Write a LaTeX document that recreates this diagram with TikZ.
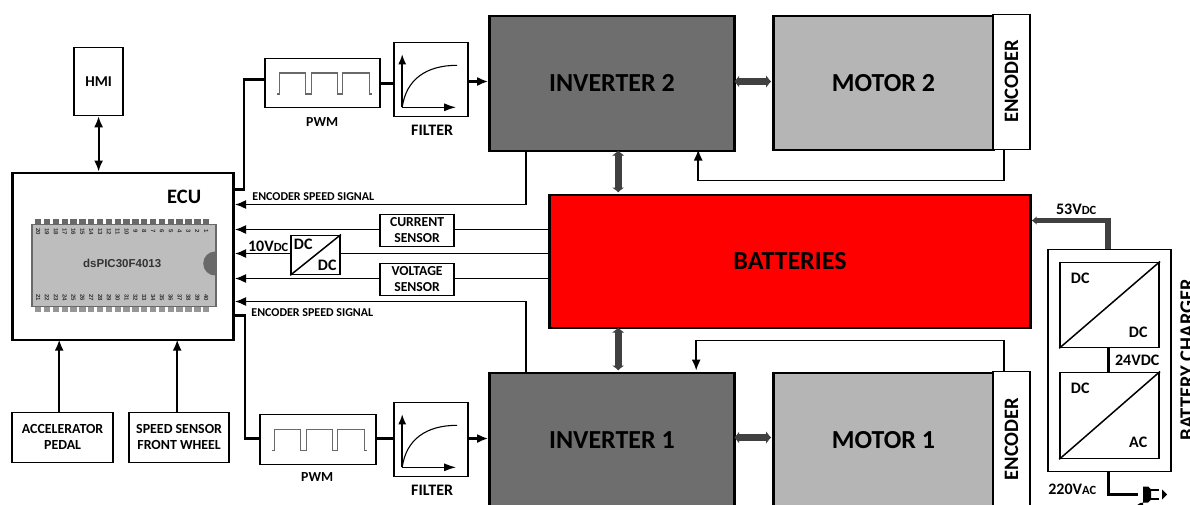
\documentclass[tikz,border=0pt]{standalone}
\usepackage{fontspec}
\setmainfont{Carlito}
\newfontfamily\chipfont{Liberation Sans}
\usetikzlibrary{arrows.meta}
\usetikzlibrary{calc}
\tikzset{>=latex}
\definecolor{chipgray}{RGB}{189,189,189}
\definecolor{pingray}{RGB}{105,105,105}
\definecolor{powergray}{RGB}{64,64,64}
\definecolor{invgray}{RGB}{110,110,110}
\definecolor{motorgray}{RGB}{181,181,181}
\tikzstyle{block}=[draw=black,line width=1.8pt,fill=white,inner sep=0pt,font=\bfseries,align=center,anchor=north west]
\tikzstyle{big block}=[block,line width=2.5pt,font=\bfseries\fontsize{26}{28}\selectfont]
\tikzstyle{enc block}=[block,line width=1.3pt,font=\bfseries\fontsize{20.5}{22}\selectfont]
\tikzstyle{thick line}=[draw=black,line width=2.4pt]
\tikzstyle{thin line}=[draw=black,line width=1.5pt]
\tikzstyle{power}=[draw=powergray,line width=7pt,{Latex[length=5pt,width=13pt]}-{Latex[length=5pt,width=13pt]}]
\tikzstyle{sig}=[-{Latex[length=11pt,width=9pt]}]
\tikzstyle{label}=[font=\bfseries\fontsize{16}{17}\selectfont,inner sep=0pt]
\tikzstyle{small label}=[font=\bfseries\fontsize{12}{13}\selectfont,inner sep=0pt]
\begin{document}
\begin{tikzpicture}[x=1pt,y=-1pt]
    \useasboundingbox (0.8,0.5) rectangle ++(1190,504);
    \clip (0.8,0.5) rectangle ++(1190,504);
    % main blocks
    \node[block,minimum width=49pt,minimum height=68pt,font=\bfseries\fontsize{15}{16}\selectfont] (hmi) at (74,47) {HMI};
    \node[block,minimum width=221pt,minimum height=167pt,line width=2.8pt] (ecu) at (12,172) {};
    \node[label,font=\bfseries\fontsize{20.5}{22}\selectfont] (ecutext) at (185,197) {ECU};
    \node[big block,minimum width=245pt,minimum height=135pt,fill=invgray] (inv2) at (489,15) {INVERTER 2};
    \node[big block,minimum width=220pt,minimum height=134pt,fill=motorgray] (mot2) at (773,15) {MOTOR 2};
    \node[enc block,minimum width=37pt,minimum height=135pt] (enc2) at (993,14) {\rotatebox{90}{ENCODER}};
    \node[big block,minimum width=481pt,minimum height=133pt,fill=red] (bat) at (549,194) {BATTERIES};
    \node[big block,minimum width=245pt,minimum height=135pt,fill=invgray] (inv1) at (489,372) {INVERTER 1};
    \node[big block,minimum width=220pt,minimum height=135pt,fill=motorgray] (mot1) at (773,372) {MOTOR 1};
    \node[enc block,minimum width=37pt,minimum height=136pt] (enc1) at (993,371) {\rotatebox{90}{ENCODER}};
    \node[block,minimum width=101pt,minimum height=50pt,font=\bfseries\fontsize{13.9}{16}\selectfont] (pedal) at (12,412) {ACCELERATOR\\PEDAL};
    \node[block,minimum width=100pt,minimum height=50pt,font=\bfseries\fontsize{13.9}{16}\selectfont] (wheel) at (129,412) {SPEED SENSOR\\FRONT WHEEL};
    % PWM and filter
    \node[block,minimum width=115pt,minimum height=49pt] (pwm2) at (265,58) {};
    \node[block,minimum width=74pt,minimum height=74pt] (fil2) at (394,42) {};
    \node[block,minimum width=116pt,minimum height=50pt] (pwm1) at (260,414) {};
    \node[block,minimum width=74pt,minimum height=74pt] (fil1) at (394,402) {};
    \node[label,font=\bfseries\fontsize{13.8}{15}\selectfont] (pwm2text) at (323,123) {PWM};
    \node[label] (fil2text) at (433,131) {FILTER};
    \node[label,font=\bfseries\fontsize{13.8}{15}\selectfont] (pwm1text) at (318,478) {PWM};
    \node[label] (fil1text) at (433,491) {FILTER};
    \foreach \pw in {pwm2,pwm1}{
      \draw[draw=pingray,line width=1.2pt] ($(\pw.west)+(13,11)$) -- ++(2,0) -- ++(0,-21) -- ++(26,0) -- ++(0,21) -- ++(6,0) -- ++(0,-21) -- ++(26,0) -- ++(0,21) -- ++(5,0) -- ++(0,-21) -- ++(27,0) -- ++(0,21) -- ++(3,0);
    }
    \foreach \flt in {fil2,fil1}{
      \coordinate (o) at ($(\flt.south west)+(9,-10)$);
      \draw[thin line,-{Latex[length=10pt,width=8pt]}] (o) -- ++(0,-53);
      \draw[thin line,-{Latex[length=12pt,width=8pt]}] (o) -- ++(54,0);
      \draw[draw=black,line width=1.1pt] (o) .. controls ($(o)+(4,-28)$) and ($(o)+(24,-42)$) .. ($(o)+(55,-42)$);
    }
    % sensors
    \node[block,minimum width=74pt,minimum height=32pt,font=\bfseries\fontsize{13.7}{16}\selectfont] (cur) at (380,214) {CURRENT\\SENSOR};
    \node[block,minimum width=74pt,minimum height=32pt,font=\bfseries\fontsize{13.7}{16}\selectfont] (volt) at (380,263) {VOLTAGE\\SENSOR};
    \node[block,minimum width=49pt,minimum height=39pt] (dcdc) at (291,235) {};
    \draw[thin line] (dcdc.south west) -- (dcdc.north east);
    \node[label] (dcdca) at (304,245) {DC};
    \node[label] (dcdcb) at (328,266) {DC};
    % chip
    \foreach \i in {1,...,20}{
      \pgfmathsetmacro{\px}{39+(\i-1)*8.84}
      \fill[pingray] (\px-3.2,219) rectangle (\px+3.2,224);
      \fill[pingray!70] (\px-3.2,306) rectangle (\px+3.2,312);
    }
    \node[draw=pingray,line width=1.6pt,fill=chipgray,minimum width=184pt,minimum height=82pt,inner sep=0pt,anchor=north west] (chip) at (32,224) {};
    \begin{scope}
      \clip (chip.north west) rectangle (chip.south east);
      \fill[pingray] (216,264) circle (12);
    \end{scope}
    \foreach \i in {1,...,20}{
      \pgfmathsetmacro{\px}{39+(\i-1)*8.84}
      \pgfmathtruncatemacro{\topnum}{21-\i}
      \pgfmathtruncatemacro{\botnum}{20+\i}
      \node[rotate=-90,inner sep=0pt,text=black!80,font=\chipfont\bfseries\fontsize{6}{6}\selectfont] (tn\i) at (\px,232) {\topnum};
      \node[rotate=-90,inner sep=0pt,text=black!80,font=\chipfont\bfseries\fontsize{6}{6}\selectfont] (bn\i) at (\px,298) {\botnum};
    }
    \node[inner sep=0pt,font=\chipfont\bfseries\fontsize{11.5}{12}\selectfont,text=black!80] (chiptext) at (123,264) {dsPIC30F4013};
    % ECU connections
    \draw[thick line,{Latex[length=11pt,width=9pt]}-{Latex[length=11pt,width=9pt]},line width=1.8pt] (hmi.south) -- (ecu.north -| hmi.south);
    \draw[thick line,sig] (pedal.north -| 60,0) -- (60,340);
    \draw[thick line,sig] (178,412) -- (178,340);
    \draw[thick line] (233,190) -- (245,190) -- (245,80) -- (pwm2.west |- 0,80);
    \draw[thick line] (233,316) -- (246,316) -- (246,439) -- (pwm1.west |- 0,439);
    \draw[thick line] (pwm2.east |- 0,84) -- (fil2.west |- 0,84);
    \draw[thick line] (pwm1.east |- 0,439) -- (fil1.west |- 0,439);
    \draw[thick line,sig] (fil2.east |- 0,82) -- (inv2.west |- 0,82);
    \draw[thick line,sig] (fil1.east |- 0,439) -- (inv1.west |- 0,439);
    % signals to ECU
    \draw[thin line,sig] (527,150) -- (527,205) -- (ecu.east |- 0,205);
    \draw[thin line,sig] (527,372) -- (527,302) -- (ecu.east |- 0,302);
    \draw[thin line,sig] (cur.west |- 0,230) -- (ecu.east |- 0,230);
    \draw[thin line] (bat.west |- 0,230) -- (cur.east |- 0,230);
    \draw[thin line,sig] (volt.west |- 0,279) -- (ecu.east |- 0,279);
    \draw[thin line] (bat.west |- 0,279) -- (volt.east |- 0,279);
    \draw[thin line,sig] (dcdc.west |- 0,254) -- (ecu.east |- 0,254);
    \draw[thin line] (bat.west |- 0,254) -- (dcdc.east |- 0,254);
    \node[small label,anchor=west] (enc2text) at (253,197) {ENCODER SPEED SIGNAL};
    \node[small label,anchor=west] (enc1text) at (252,313) {ENCODER SPEED SIGNAL};
    \node[label] (vten) at (269,247) {10V{\fontsize{12.5}{13}\selectfont DC}};
    % power arrows
    \draw[power] (619,151) -- (619,193);
    \draw[power] (619,328) -- (619,371);
    \draw[power] (735,82) -- (772,82);
    \draw[power] (735,438) -- (772,438);
    % motor feedback
    \draw[thin line,sig] (1005,149) -- (1005,181) -- (699,181) -- (699,150);
    \draw[thin line,sig] (1005,371) -- (1005,341) -- (697,341) -- (697,371);
    % charger
    \node[block,minimum width=123pt,minimum height=222pt,line width=1.4pt] (chg) at (1048,249) {};
    \node[block,minimum width=99pt,minimum height=85pt] (conv2) at (1060,262) {};
    \node[block,minimum width=99pt,minimum height=86pt] (conv1) at (1060,372) {};
    \draw[thin line] (conv2.south west) -- (conv2.north east);
    \draw[thin line] (conv1.south west) -- (conv1.north east);
    \node[label] (c2a) at (1081,279) {DC};
    \node[label] (c2b) at (1139,333) {DC};
    \node[label] (c1a) at (1081,389) {DC};
    \node[label] (c1b) at (1139,443) {AC};
    \draw[draw=black,line width=3pt] (conv2.south -| 1109,0) -- (conv1.north -| 1109,0);
    \node[label] (v24) at (1138,361) {24VDC};
    \draw[draw=powergray,line width=5.5pt,-{Latex[length=5pt,width=9pt]}] (chg.north -| 1109,0) -- (1109,221) -- (bat.east |- 0,221);
    \node[label] (v53) at (1077,210) {53V{\fontsize{12.5}{13}\selectfont DC}};
    \node[label] (v220) at (1073,490) {220V{\fontsize{12.5}{13}\selectfont AC}};
    \node[label,rotate=90,font=\bfseries\fontsize{20.5}{22}\selectfont] (chgtext) at (1188,360) {BATTERY CHARGER};
    % plug
    \coordinate (plug) at (1139,495);
    \draw[draw=black,line width=2.8pt] (chg.south -| 1109,0) -- (1109,495) -- (plug);
    \fill (1144,487) -- (1149,487) -- (1152,490) -- (1152,500) -- (1149,503) -- (1144,503) arc (270:90:8) -- cycle;
    \fill (1151,489.5) rectangle (1160,491.5);
    \fill (1151,498.5) rectangle (1160,500.5);
    \fill (1163,490) -- (1168,495) -- (1163,500) -- cycle;
  \end{tikzpicture}
\end{document}
